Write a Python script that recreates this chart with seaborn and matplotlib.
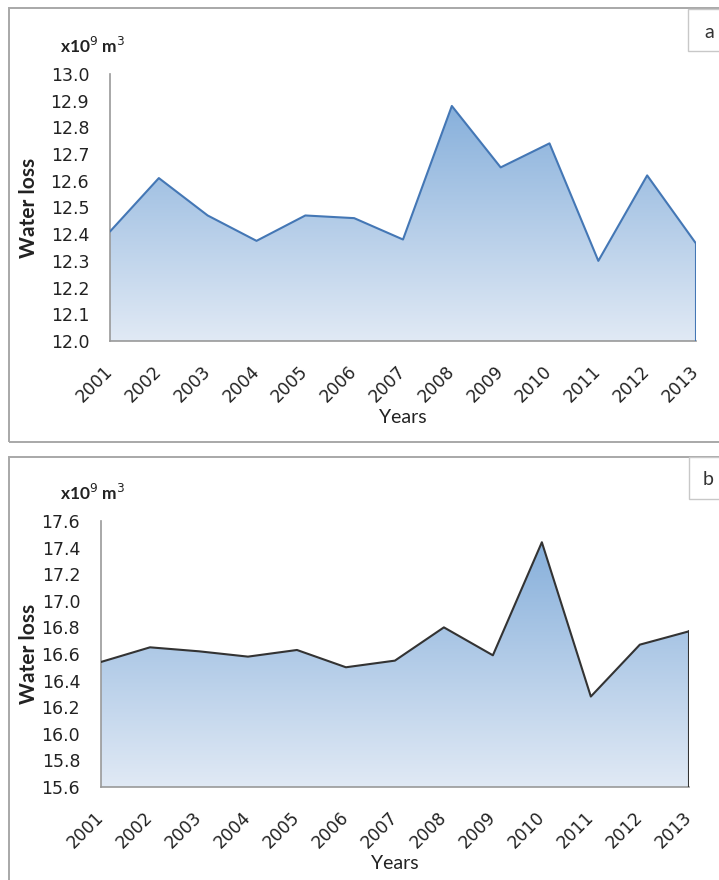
import numpy as np
import pandas as pd
import seaborn as sns
import matplotlib.pyplot as plt
from matplotlib.patches import Rectangle, Polygon

sns.set_style("white")
plt.rcParams['font.family'] = ['Lato', 'DejaVu Sans']

years = list(range(2001, 2014))
loss_a = [12.41, 12.61, 12.47, 12.375, 12.47, 12.46, 12.38, 12.88, 12.65, 12.74, 12.30, 12.62, 12.365]
loss_b = [16.54, 16.65, 16.62, 16.58, 16.63, 16.50, 16.55, 16.80, 16.59, 17.44, 16.28, 16.67, 16.77]

df_a = pd.DataFrame({"Years": years, "Water loss": loss_a})
df_b = pd.DataFrame({"Years": years, "Water loss": loss_b})

fig = plt.figure(figsize=(7.19, 8.80), dpi=100)

# panel frames and letter boxes
fig.patches.append(Rectangle((0.0125, 0.4977), 1.0, 0.4933, transform=fig.transFigure,
                             fill=False, edgecolor="#a8a8a8", lw=1.4))
fig.patches.append(Rectangle((0.0125, -0.02), 1.0, 0.5007, transform=fig.transFigure,
                             fill=False, edgecolor="#a8a8a8", lw=1.4))
fig.patches.append(Rectangle((0.957, 0.942), 0.06, 0.048, transform=fig.transFigure,
                             facecolor="white", edgecolor="#c8c8c8", lw=1.0))
fig.patches.append(Rectangle((0.958, 0.4325), 0.06, 0.048, transform=fig.transFigure,
                             facecolor="white", edgecolor="#c8c8c8", lw=1.0))
fig.text(0.987, 0.9625, "a", fontsize=14, ha="center", va="center", color="#333333")
fig.text(0.985, 0.4555, "b", fontsize=14, ha="center", va="center", color="#333333")

ax_a = fig.add_axes([0.153, 0.6125, 0.815, 0.3035])
ax_b = fig.add_axes([0.1405, 0.1057, 0.8175, 0.3023])

tick_font = "DejaVu Sans"


def draw_panel(ax, df, ymin, ymax, step, line_color, unit_x, unit_y, ylab_x):
    sns.lineplot(data=df, x="Years", y="Water loss", ax=ax, color=line_color, lw=1.5, zorder=3)
    xs = df["Years"].values
    ys = df["Water loss"].values
    # gradient fill under the curve
    verts = [(xs[0], ymin)] + list(zip(xs, ys)) + [(xs[-1], ymin)]
    poly = Polygon(verts, closed=True, facecolor="none", edgecolor="none")
    ax.add_patch(poly)
    top_c = np.array([0.53, 0.69, 0.86])
    bot_c = np.array([0.88, 0.915, 0.96])
    t = np.linspace(0, 1, 256)[:, None]
    grad = (top_c * (1 - t) + bot_c * t)[:, None, :]
    grad = np.repeat(grad, 2, axis=1)
    im = ax.imshow(grad, extent=[xs[0], xs[-1], ymin, ys.max()], aspect="auto",
                   origin="upper", zorder=2)
    im.set_clip_path(poly)
    ax.plot([xs[-1], xs[-1]], [ymin, ys[-1]], color=line_color, lw=1.5, zorder=3)

    ax.set_xlim(xs[0], xs[-1])
    ax.set_ylim(ymin, ymax)
    ax.set_xticks(years)
    ax.set_xticklabels([str(y) for y in years], rotation=45, ha="right", va="center",
                       rotation_mode="anchor", fontsize=12.3, color="#222222",
                       family=tick_font)
    yt = np.round(np.arange(ymin, ymax + step / 2, step), 1)
    ax.set_yticks(yt)
    ax.set_yticklabels([f"{v:.1f}" for v in yt], fontsize=12.5, color="#222222",
                       family=tick_font)
    ax.tick_params(axis="both", direction="out", length=6, color="#888888", width=1)
    ax.tick_params(axis="y", pad=9)
    ax.tick_params(axis="x", pad=14)
    for s in ["top", "right"]:
        ax.spines[s].set_visible(False)
    for s in ["left", "bottom"]:
        ax.spines[s].set_color("#999999")
        ax.spines[s].set_linewidth(1.2)
    ax.set_xlabel("Years", fontsize=14, color="#222222", labelpad=2)
    ax.set_ylabel("Water loss", fontsize=15, fontweight="bold", color="#222222")
    ax.yaxis.set_label_coords(ylab_x, 0.5)
    ax.text(unit_x, unit_y, r"x10$^{9}$ m$^{3}$", transform=ax.transAxes,
            fontsize=12.5, fontweight="bold", color="#222222", ha="left", va="center")


draw_panel(ax_a, df_a, 12.0, 13.0, 0.1, "#4477b5", -0.085, 1.105, -0.121)
draw_panel(ax_b, df_b, 15.6, 17.6, 0.2, "#333333", -0.07, 1.105, -0.105)

fig.savefig("out.png", dpi=100)
